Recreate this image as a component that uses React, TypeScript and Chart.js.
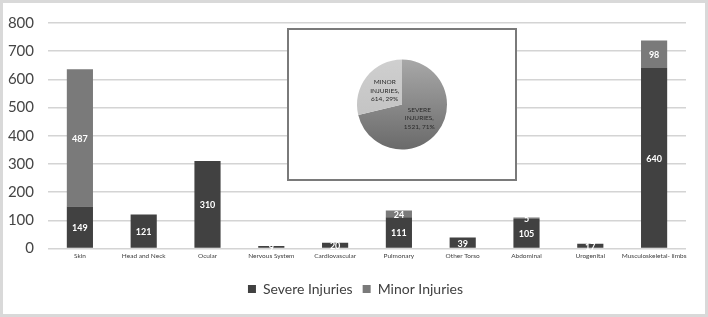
import React, { useEffect, useRef } from "react";
import { Chart, registerables } from "chart.js";

Chart.register(...registerables);

const categories = [
  "Skin",
  "Head and Neck",
  "Ocular",
  "Nervous System",
  "Cardiovascular",
  "Pulmonary",
  "Other Torso",
  "Abdominal",
  "Urogenital",
  "Musculoskeletal- limbs",
];
const severeValues = [149, 121, 310, 9, 20, 111, 39, 105, 17, 640];
const minorValues = [487, 0, 0, 0, 0, 24, 0, 5, 0, 98];
const yTicks = [0, 100, 200, 300, 400, 500, 600, 700, 800];

const pieLabels = ["SEVERE INJURIES", "MINOR INJURIES"];
const pieValues = [1521, 614];
const piePercents = ["71%", "29%"];

const FONT = "Lato, 'Open Sans', sans-serif";

const barLabelPlugin = {
  id: "barLabels",
  afterDatasetsDraw(chart: any) {
    const ctx = chart.ctx;
    ctx.save();
    ctx.fillStyle = "#ffffff";
    ctx.font = `bold 9px ${FONT}`;
    ctx.textAlign = "center";
    ctx.textBaseline = "middle";
    chart.data.datasets.forEach((ds: any, di: number) => {
      const meta = chart.getDatasetMeta(di);
      meta.data.forEach((el: any, i: number) => {
        const v = ds.data[i];
        if (!v) return;
        ctx.fillText(String(v), el.x, (el.y + el.base) / 2 + 1);
      });
    });
    ctx.restore();
  },
};

const pieLabelPlugin = {
  id: "pieLabels",
  afterDatasetsDraw(chart: any) {
    const ctx = chart.ctx;
    const meta = chart.getDatasetMeta(0);
    ctx.save();
    ctx.fillStyle = "#2a2a2a";
    ctx.font = `6.5px ${FONT}`;
    ctx.textAlign = "center";
    ctx.textBaseline = "middle";
    meta.data.forEach((arc: any, i: number) => {
      const mid = (arc.startAngle + arc.endAngle) / 2;
      const r = arc.outerRadius * 0.49;
      const cx = arc.x + Math.cos(mid) * r;
      const cy = arc.y + Math.sin(mid) * r;
      const words = pieLabels[i].split(" ");
      const lines = [words[0], words[1] + ",", `${pieValues[i]}, ${piePercents[i]}`];
      lines.forEach((ln, k) => {
        ctx.fillText(ln, cx, cy + (k - 1) * 8.5);
      });
    });
    ctx.restore();
  },
};

export default function App() {
  const barRef = useRef<HTMLCanvasElement>(null);
  const pieRef = useRef<HTMLCanvasElement>(null);

  useEffect(() => {
    const bar = new Chart(barRef.current!, {
      type: "bar",
      data: {
        labels: categories,
        datasets: [
          {
            label: "Severe Injuries",
            data: severeValues,
            backgroundColor: "#414141",
            categoryPercentage: 1,
            barPercentage: 0.41,
          },
          {
            label: "Minor Injuries",
            data: minorValues,
            backgroundColor: "#7a7a7a",
            categoryPercentage: 1,
            barPercentage: 0.41,
          },
        ],
      },
      options: {
        responsive: false,
        animation: false,
        devicePixelRatio: 1,
        layout: { padding: { left: 3, right: 0, top: 22, bottom: 11 } },
        plugins: {
          tooltip: { enabled: false },
          legend: {
            position: "bottom",
            labels: {
              boxWidth: 8,
              boxHeight: 8,
              padding: 10,
              color: "#404040",
              font: { family: FONT, size: 14 },
            },
          },
        },
        scales: {
          x: {
            stacked: true,
            grid: { display: false, drawTicks: false },
            border: { display: false },
            ticks: {
              color: "#404040",
              font: { family: FONT, size: 6.5 },
              padding: 4,
              maxRotation: 0,
              autoSkip: false,
            },
            afterFit(scale: any) {
              scale.height = 23.5;
            },
          },
          y: {
            stacked: true,
            min: 0,
            max: 800,
            afterBuildTicks(scale: any) {
              scale.ticks = yTicks.map((v) => ({ value: v }));
            },
            grid: { color: "#d4d4d4", lineWidth: 1.5, drawTicks: false },
            border: { display: false },
            ticks: {
              color: "#454545",
              font: { family: FONT, size: 15 },
              padding: 14,
            },
            afterFit(scale: any) {
              scale.width = 45;
            },
          },
          yRight: {
            position: "right",
            display: true,
            grid: { display: false, drawTicks: false },
            border: { display: false },
            ticks: { display: false },
            afterFit(scale: any) {
              scale.width = 22;
            },
          },
        },
      },
      plugins: [barLabelPlugin],
    } as any);

    const pie = new Chart(pieRef.current!, {
      type: "pie",
      data: {
        labels: pieLabels,
        datasets: [
          {
            data: pieValues,
            radius: 45,
            borderWidth: 0,
            backgroundColor: (c: any) => {
              const chart = c.chart;
              const area = chart.chartArea;
              if (!area) return c.dataIndex === 0 ? "#888888" : "#c6c6c6";
              const ctx = chart.ctx;
              const cy = (area.top + area.bottom) / 2;
              if (c.dataIndex === 0) {
                const g = ctx.createLinearGradient(0, cy - 45, 0, cy + 45);
                g.addColorStop(0, "#a8a8a8");
                g.addColorStop(1, "#6a6a6a");
                return g;
              }
              const g = ctx.createLinearGradient(0, cy - 45, 0, cy + 45);
              g.addColorStop(0, "#cfcfcf");
              g.addColorStop(1, "#bdbdbd");
              return g;
            },
          },
        ],
      },
      options: {
        responsive: false,
        animation: false,
        devicePixelRatio: 1,
        plugins: { legend: { display: false }, tooltip: { enabled: false } },
      },
      plugins: [pieLabelPlugin],
    } as any);

    return () => {
      bar.destroy();
      pie.destroy();
    };
  }, []);

  return (
    <div style={{ position: "fixed", left: 0, top: 0, width: 708, height: 317, background: "#fff" }}>
      <canvas
        ref={barRef}
        width={708}
        height={317}
        style={{ position: "absolute", left: 0, top: 0, width: 708, height: 317 }}
      />
      <div
        style={{
          position: "absolute",
          left: 287,
          top: 28,
          width: 230,
          height: 153,
          boxSizing: "border-box",
          border: "2px solid #7a7a7a",
          background: "#fff",
        }}
      >
        <canvas ref={pieRef} width={226} height={149} style={{ display: "block", width: 226, height: 149 }} />
      </div>
      <div
        style={{
          position: "absolute",
          left: 0,
          top: 0,
          width: 708,
          height: 317,
          boxSizing: "border-box",
          border: "3px solid #d9d9d9",
          pointerEvents: "none",
        }}
      />
    </div>
  );
}
